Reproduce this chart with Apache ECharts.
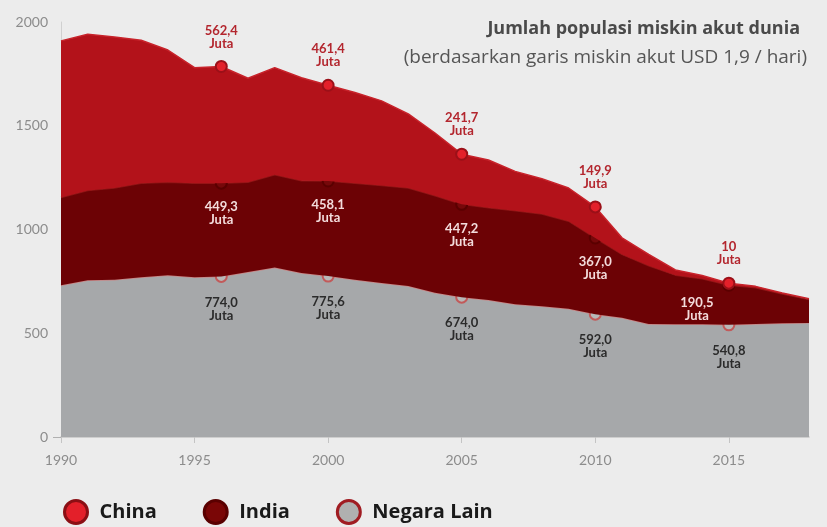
<!DOCTYPE html>
<html>
<head>
<meta charset="utf-8">
<script src="https://cdn.jsdelivr.net/npm/echarts@6/dist/echarts.min.js"></script>
<style>
html,body{margin:0;padding:0;background:#ececec;}
#c{width:827px;height:527px;}
</style>
</head>
<body>
<div id="c"></div>
<script>
const years = [1990,1991,1992,1993,1994,1995,1996,1997,1998,1999,2000,2001,2002,2003,2004,2005,2006,2007,2008,2009,2010,2011,2012,2013,2014,2015,2016,2017,2018];
const negaraLain = [731,755,758,770,779,770,774.0,795,817,790,775.6,758,742,728,695,674.0,660,640,630,618,592.0,575,545,543,543,540.8,545,548,550];
const india = [423,433,442,453,449,453,449.3,433,447,445,458.1,465,470,472,468,447.2,445,450,445,422,367.0,305,280,237,220,190.5,174,141,112];
const china = [755,753,728,689,637,557,562.4,501,516,496,461.4,437,408,357,302,241.7,230,190,170,160,149.9,80,55,25,15,10,7,5,4];

const labelYears = [1996,2000,2005,2010,2015];
const chinaLabels = ['562,4','461,4','241,7','149,9','10'];
const indiaLabels = ['449,3','458,1','447,2','367,0','190,5'];
const lainLabels = ['774,0','775,6','674,0','592,0','540,8'];
const titleText = 'Jumlah populasi miskin akut dunia';
const subText = '(berdasarkan garis miskin akut USD 1,9 / hari)';

const FONT = 'Lato';
const TFONT = 'Open Sans';

function buildData(values, labels, opts) {
  return values.map((v, i) => {
    const k = labelYears.indexOf(years[i]);
    if (k < 0) return { value: v, symbol: 'none' };
    const item = {
      value: v,
      symbol: 'circle',
      symbolSize: opts.size,
      label: {
        show: true,
        formatter: labels[k] + '\nJuta'
      }
    };
    if (opts.special && opts.special[years[i]]) {
      item.label = Object.assign(item.label, opts.special[years[i]]);
    }
    return item;
  });
}

const chart = echarts.init(document.getElementById('c'));
chart.setOption({
  backgroundColor: '#ececec',
  animation: false,
  title: [
    { text: titleText, right: 22, top: 15,
      textStyle: { fontFamily: TFONT, fontSize: 18, fontWeight: 'bold', color: '#4a4a4a' } },
    { text: subText, right: 15, top: 43,
      textStyle: { fontFamily: TFONT, fontSize: 19, fontWeight: 'normal', color: '#555555' } }
  ],
  legend: {
    left: 58, bottom: -3,
    icon: 'circle',
    itemWidth: 23, itemHeight: 23, itemGap: 46,
    data: [
      { name: 'China', itemStyle: { color: '#e3202a', borderColor: '#8b0f14', borderWidth: 3 } },
      { name: 'India', itemStyle: { color: '#7a0606', borderColor: '#5a0000', borderWidth: 3 } },
      { name: 'Negara Lain', itemStyle: { color: '#b0b0b0', borderColor: '#a01c22', borderWidth: 3 } }
    ],
    textStyle: { fontFamily: TFONT, fontSize: 20, fontWeight: 'bold', color: '#1a1a1a', padding: [0,0,0,7] }
  },
  grid: { left: 61, right: 18, top: 22, bottom: 90 },
  xAxis: {
    type: 'category',
    boundaryGap: false,
    data: years,
    axisLine: { show: true, lineStyle: { color: '#c4c4c4', width: 1.5 } },
    axisTick: { show: true, interval: 4, length: 6, lineStyle: { color: '#c4c4c4' } },
    axisLabel: { interval: 4, fontFamily: FONT, fontSize: 14, color: '#8c8c8c', margin: 16 }
  },
  yAxis: {
    type: 'value',
    min: 0, max: 2000, interval: 500,
    splitLine: { show: false },
    axisLine: { show: true, lineStyle: { color: '#d0d0d0', width: 1 } },
    axisTick: { show: true, customValues: [0], length: 8, lineStyle: { color: '#b0b0b0' } },
    axisLabel: { fontFamily: FONT, fontSize: 14, color: '#8c8c8c', margin: 13, formatter: v => String(v) }
  },
  series: [
    {
      name: 'Negara Lain', type: 'line', stack: 'total',
      data: buildData(negaraLain, lainLabels, { size: 11 }),
      lineStyle: { color: '#c98585', width: 1.5 },
      areaStyle: { color: '#a6a8aa', opacity: 1 },
      itemStyle: { color: '#b8b8b8', borderColor: '#c25a5a', borderWidth: 2 },
      label: { position: 'bottom', distance: 13, fontFamily: FONT, fontSize: 13, fontWeight: 'bold', color: '#2b2b2b', lineHeight: 13 },
      z: 2
    },
    {
      name: 'India', type: 'line', stack: 'total',
      data: buildData(india, indiaLabels, { size: 11, special: { 2015: { offset: [-32, -6] } } }),
      lineStyle: { color: '#8c1515', width: 1.5 },
      areaStyle: { color: '#6c0205', opacity: 1 },
      itemStyle: { color: '#76080a', borderColor: '#5a0000', borderWidth: 2 },
      label: { position: 'bottom', distance: 11, fontFamily: FONT, fontSize: 13, fontWeight: 'bold', color: '#f3dcdc', lineHeight: 13 },
      z: 3
    },
    {
      name: 'China', type: 'line', stack: 'total',
      data: buildData(china, chinaLabels, { size: 11 }),
      lineStyle: { color: '#c8232b', width: 1.5 },
      areaStyle: { color: '#b3121a', opacity: 1 },
      itemStyle: { color: '#e3202a', borderColor: '#9b1018', borderWidth: 2 },
      label: { position: 'top', distance: 10, fontFamily: FONT, fontSize: 13, fontWeight: 'bold', color: '#b3262e', lineHeight: 13 },
      z: 4
    }
  ]
});
</script>
</body>
</html>
